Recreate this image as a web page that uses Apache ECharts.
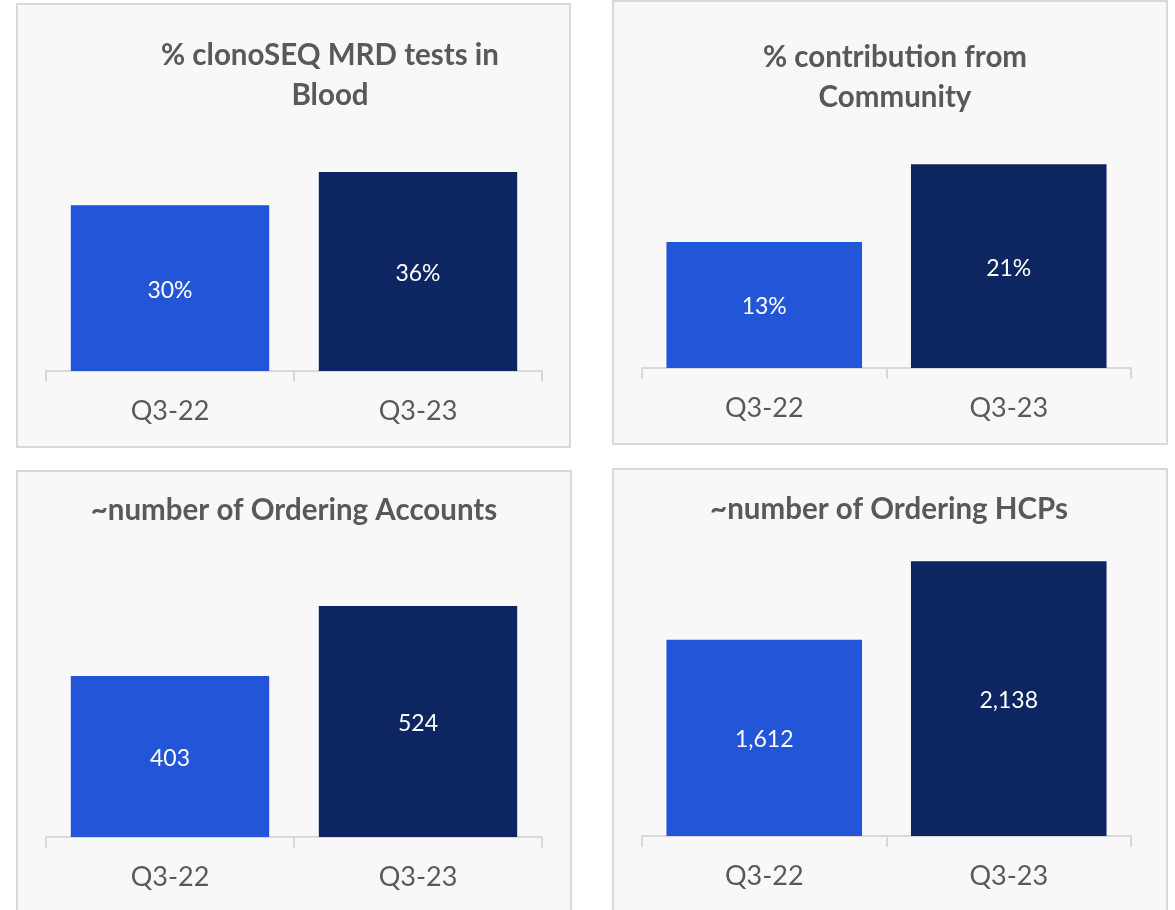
<!DOCTYPE html>
<html>
<head>
<meta charset="utf-8">
<script src="https://cdn.jsdelivr.net/npm/echarts@6/dist/echarts.min.js"></script>
<style>
  html, body { margin: 0; padding: 0; background: #ffffff; }
  #main { width: 1175px; height: 910px; }
</style>
</head>
<body>
<div id="main"></div>
<script>
// data
const categories = ["Q3-22", "Q3-23"]
const bloodShare = [30, 36]
const communityShare = [13, 21]
const orderingAccounts = [403, 524]
const orderingHcps = [1612, 2138]
const panelTitles = [
    "% clonoSEQ MRD tests in\nBlood",
    "% contribution from\nCommunity",
    "~number of Ordering Accounts",
    "~number of Ordering HCPs"
]
const barColors = ["#2255d7", "#0d2661"]

const FONT = "Lato, 'Open Sans', sans-serif"
const GREY = "#595959"
const LINE = "#d9d9d9"

// panel layout: frame, grid and title placement
const panels = [
    {frame: [17, 4, 553, 443], grid: {left: 46, width: 496, top: 150, height: 221}, y: [0, 40], titleX: 330, titleY: 36, values: bloodShare, pct: true},
    {frame: [613, 1, 554, 443], grid: {left: 642, width: 489, top: 125.5, height: 242.5}, y: [0, 25], titleX: 895, titleY: 38, values: communityShare, pct: true},
    {frame: [17, 471, 554, 470], grid: {left: 46, width: 496, top: 562, height: 275}, y: [125, 600], titleX: 294, titleY: 491, values: orderingAccounts, pct: false},
    {frame: [613, 469, 554, 470], grid: {left: 642, width: 489, top: 507, height: 329}, y: [300, 2500], titleX: 889, titleY: 490, values: orderingHcps, pct: false}
]

const chart = echarts.init(document.getElementById("main"))

const option = {
    animation: false,
    textStyle: {fontFamily: FONT},
    graphic: panels.map((p) => ({
        type: "rect",
        z: -10,
        shape: {x: p.frame[0], y: p.frame[1], width: p.frame[2], height: p.frame[3]},
        style: {fill: "#f8f8f8", stroke: LINE, lineWidth: 2}
    })),
    title: panels.map((p, i) => ({
        text: panelTitles[i],
        left: p.titleX,
        top: p.titleY,
        textAlign: "center",
        padding: 0,
        textStyle: {
            fontFamily: FONT,
            fontSize: 29.5,
            fontWeight: "bold",
            color: GREY,
            lineHeight: 39.5
        }
    })),
    grid: panels.map((p) => p.grid),
    xAxis: panels.map((p, i) => ({
        type: "category",
        gridIndex: i,
        data: categories,
        axisLine: {lineStyle: {color: LINE, width: 2}},
        axisTick: {show: true, length: 11, lineStyle: {color: LINE, width: 2}},
        axisLabel: {color: GREY, fontSize: 27, fontFamily: FONT, margin: 27},
        splitLine: {show: false}
    })),
    yAxis: panels.map((p, i) => ({
        type: "value",
        gridIndex: i,
        min: p.y[0],
        max: p.y[1],
        show: false,
        splitLine: {show: false}
    })),
    series: panels.map((p, i) => ({
        type: "bar",
        xAxisIndex: i,
        yAxisIndex: i,
        barWidth: "80%",
        data: p.values.map((v, k) => ({value: v, itemStyle: {color: barColors[k]}})),
        label: {
            show: true,
            position: "inside",
            offset: [0, 2],
            color: "#ffffff",
            fontSize: 23,
            fontFamily: FONT,
            formatter: (d) => p.pct ? d.value + "%" : d.value.toLocaleString("en-US")
        }
    }))
}

chart.setOption(option)
window.addEventListener("resize", () => chart.resize())
</script>
</body>
</html>
